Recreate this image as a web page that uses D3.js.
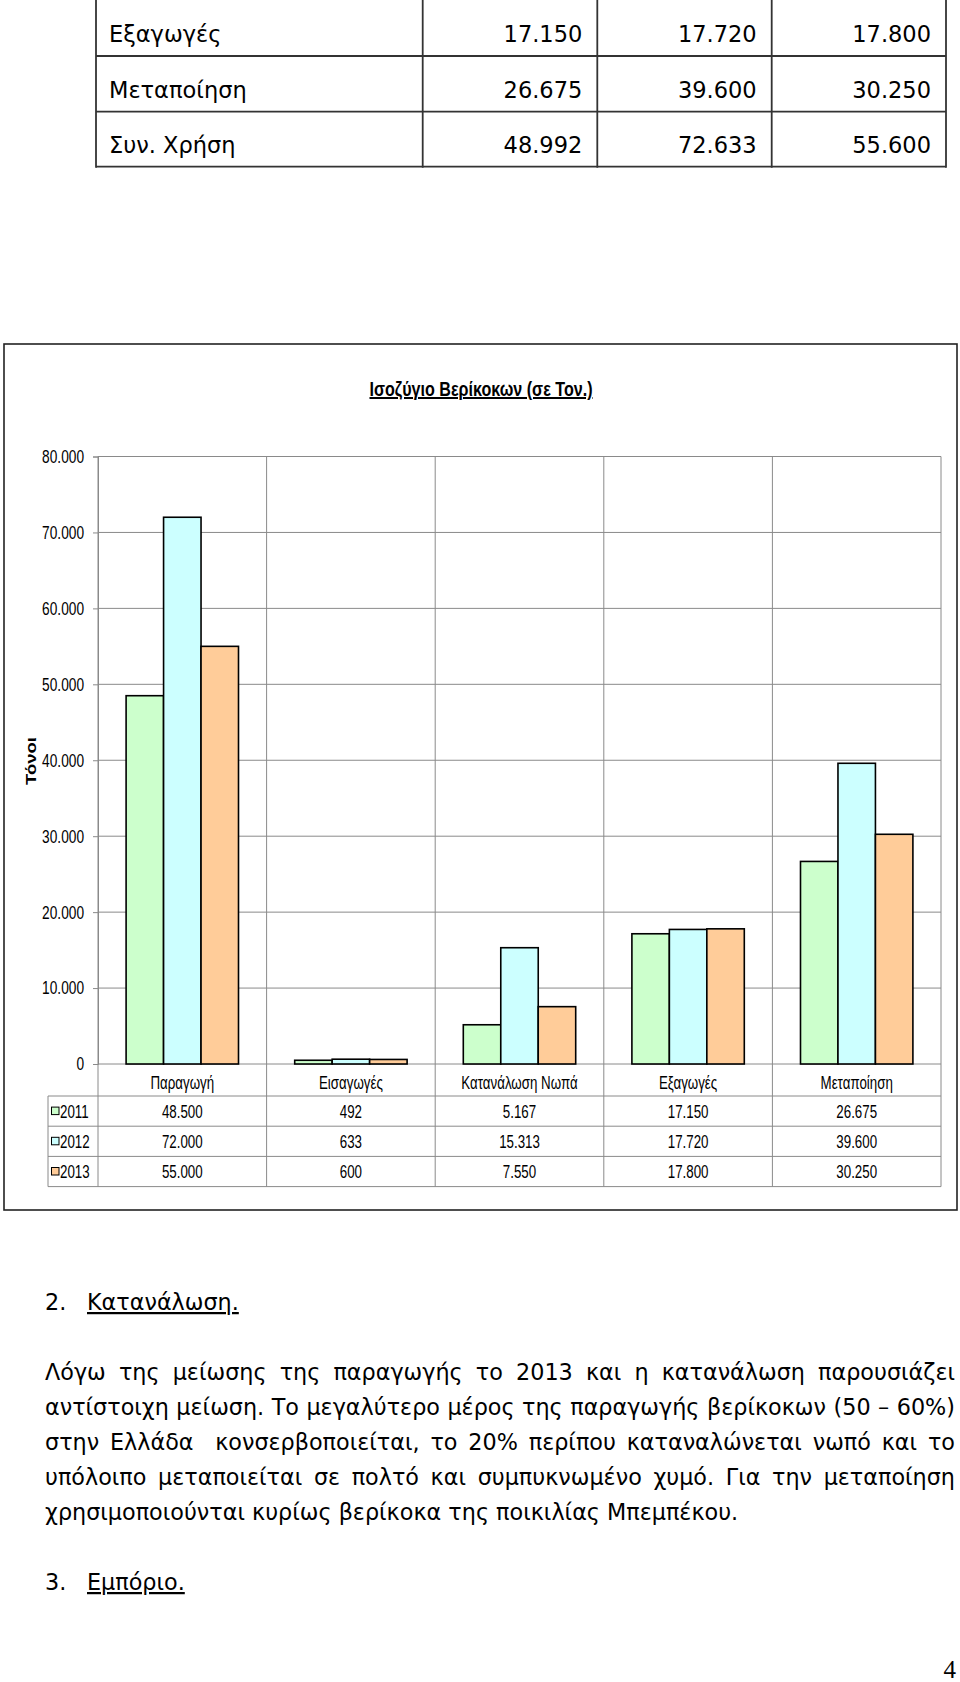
<!DOCTYPE html>
<html><head><meta charset="utf-8">
<script src="https://cdn.jsdelivr.net/npm/d3@7"></script>
<style>html,body{margin:0;padding:0;background:#fff}svg{display:block}</style>
</head><body><div id="c"></div>
<script>
// ---------- data ----------
const categories = ["Παραγωγή", "Εισαγωγές", "Κατανάλωση Νωπά", "Εξαγωγές", "Μεταποίηση"];
const years = ["2011", "2012", "2013"];
const values2011 = [48500, 492, 5167, 17150, 26675];
const values2012 = [72000, 633, 15313, 17720, 39600];
const values2013 = [55000, 600, 7550, 17800, 30250];
const yTicks = [0, 10000, 20000, 30000, 40000, 50000, 60000, 70000, 80000];

const topRowLabels = ["Εξαγωγές", "Μεταποίηση", "Συν. Χρήση"];
const top2011 = [17150, 26675, 48992];
const top2012 = [17720, 39600, 72633];
const top2013 = [17800, 30250, 55600];

const chartTitle = "Ισοζύγιο Βερίκοκων  (σε Τον.)";
const yAxisTitle = "Τόνοι";
const heading2 = ["2.", "Κατανάλωση."];
const paragraph = [
  "Λόγω της μείωσης της παραγωγής το 2013 και η κατανάλωση παρουσιάζει",
  "αντίστοιχη μείωση. Το μεγαλύτερο μέρος της παραγωγής βερίκοκων (50 – 60%)",
  "στην Ελλάδα  κονσερβοποιείται, το 20% περίπου καταναλώνεται νωπό και το",
  "υπόλοιπο μεταποιείται σε πολτό και συμπυκνωμένο χυμό. Για την μεταποίηση",
  "χρησιμοποιούνται κυρίως βερίκοκα της ποικιλίας Μπεμπέκου."
];
const heading3 = ["3.", "Εμπόριο."];
const pageNumber = "4";

// ---------- styles ----------
const seriesColors = ["#CCFFCC", "#CCFFFF", "#FFCC99"];
const sans = "'Liberation Sans',Arial,sans-serif";
const docFont = "'DejaVu Sans','Noto Sans',sans-serif";
const NARROW = 0.74;

const series = [values2011, values2012, values2013];
const topCols = [top2011, top2012, top2013];
const loc = d3.formatLocale({decimal: ",", thousands: ".", grouping: [3], currency: ["", "€"]});
const fmt = loc.format(",d");

function condense(sel, f) {
  sel.each(function () {
    const w = this.getComputedTextLength();
    d3.select(this).attr("textLength", w * f).attr("lengthAdjust", "spacingAndGlyphs");
  });
  return sel;
}

const W = 960, H = 1682;
const svg = d3.select("#c").append("svg").attr("width", W).attr("height", H);

// ---------- top table ----------
const tt = svg.append("g");
const tColX = [96, 422.7, 597.3, 771.7, 946];
const tRowY = [0, 56, 111.7, 166.7];
const tLine = "#333";
tColX.forEach(x => tt.append("line").attr("x1", x).attr("x2", x).attr("y1", -2).attr("y2", tRowY[3] + 1)
  .attr("stroke", tLine).attr("stroke-width", 1.8));
tRowY.slice(1).forEach(yy => tt.append("line").attr("x1", tColX[0]).attr("x2", tColX[4]).attr("y1", yy).attr("y2", yy)
  .attr("stroke", tLine).attr("stroke-width", 1.8));
topRowLabels.forEach((lab, i) => {
  const by = tRowY[i + 1] - 14;
  tt.append("text").attr("x", 109).attr("y", by).attr("font-family", docFont).attr("font-size", 22.5)
    .attr("fill", "#000").text(lab);
  topCols.forEach((col, j) => {
    tt.append("text").attr("x", tColX[j + 2] - 15).attr("y", by).attr("text-anchor", "end")
      .attr("font-family", docFont).attr("font-size", 22.5).attr("fill", "#000").text(fmt(col[i]));
  });
});

// ---------- chart ----------
const cg = svg.append("g");
cg.append("rect").attr("x", 4).attr("y", 344).attr("width", 953).attr("height", 866)
  .attr("fill", "#fff").attr("stroke", "#222").attr("stroke-width", 1.6);

cg.append("text").attr("x", 481).attr("y", 396).attr("text-anchor", "middle")
  .attr("font-family", sans).attr("font-weight", "bold").attr("font-size", 20)
  .attr("text-decoration", "underline").attr("fill", "#000")
  .attr("textLength", 223).attr("lengthAdjust", "spacingAndGlyphs").text(chartTitle);

const plotL = 98, plotR = 941, plotT = 456.5, plotB = 1064;
const y = d3.scaleLinear().domain([0, 80000]).range([plotB, plotT]);
const x0 = d3.scaleBand().domain(categories).range([plotL, plotR]).paddingInner(0).paddingOuter(0);
const x1 = d3.scaleBand().domain(years).range([0, x0.bandwidth()]).paddingInner(0).paddingOuter(0.75);

const grid = "#8a8a8a";
cg.append("g").selectAll("line").data(yTicks).join("line")
  .attr("x1", plotL).attr("x2", plotR).attr("y1", d => y(d)).attr("y2", d => y(d))
  .attr("stroke", grid).attr("stroke-width", 1);
const tableTop = 1096, rowH = 30.2;
const tableBottom = tableTop + rowH * 3;
const bounds = categories.map(c => x0(c)).concat([plotR]);
cg.append("g").selectAll("line").data(bounds).join("line")
  .attr("x1", d => d).attr("x2", d => d).attr("y1", plotT).attr("y2", tableBottom)
  .attr("stroke", grid).attr("stroke-width", 1);

// y axis
const yAxis = d3.axisLeft(y).tickValues(yTicks).tickSize(5).tickPadding(9).tickFormat(d => fmt(d));
const ya = cg.append("g").attr("transform", `translate(${plotL},0)`).call(yAxis);
ya.select(".domain").attr("stroke", grid);
ya.selectAll(".tick line").attr("stroke", grid);
condense(ya.selectAll(".tick text").attr("font-family", sans).attr("font-size", 18.5).attr("fill", "#000"), NARROW);

cg.append("text").attr("transform", `translate(31,761) rotate(-90)`).attr("text-anchor", "middle")
  .attr("dy", "0.35em").attr("font-family", sans).attr("font-weight", "bold")
  .attr("font-size", 15).attr("fill", "#000")
  .attr("textLength", 48).attr("lengthAdjust", "spacingAndGlyphs").text(yAxisTitle);

// bars
const barData = [];
categories.forEach((c, ci) => years.forEach((yr, si) => barData.push({c, yr, si, v: series[si][ci]})));
cg.append("g").selectAll("rect").data(barData).join("rect")
  .attr("x", d => x0(d.c) + x1(d.yr)).attr("width", x1.bandwidth())
  .attr("y", d => y(d.v)).attr("height", d => y(0) - y(d.v))
  .attr("fill", d => seriesColors[d.si]).attr("stroke", "#000").attr("stroke-width", 1.6);

// category labels
condense(cg.append("g").selectAll("text").data(categories).join("text")
  .attr("x", d => x0(d) + x0.bandwidth() / 2).attr("y", 1089).attr("text-anchor", "middle")
  .attr("font-family", sans).attr("font-size", 18).attr("fill", "#000").text(d => d), NARROW);

// data table
const tblLeft = 48;
const tg = cg.append("g");
d3.range(4).forEach(i => tg.append("line").attr("x1", tblLeft).attr("x2", plotR)
  .attr("y1", tableTop + i * rowH).attr("y2", tableTop + i * rowH).attr("stroke", grid).attr("stroke-width", 1));
tg.append("line").attr("x1", tblLeft).attr("x2", tblLeft).attr("y1", tableTop).attr("y2", tableBottom)
  .attr("stroke", grid).attr("stroke-width", 1);
years.forEach((yr, si) => {
  const cy = tableTop + rowH * si + rowH / 2;
  tg.append("rect").attr("x", 51.5).attr("y", cy - 4).attr("width", 7.5).attr("height", 7.5)
    .attr("fill", seriesColors[si]).attr("stroke", "#000").attr("stroke-width", 1);
  condense(tg.append("text").attr("x", 60).attr("y", cy).attr("dy", "0.36em").attr("font-family", sans)
    .attr("font-size", 18).attr("fill", "#000").text(yr), NARROW);
  categories.forEach((c, ci) => {
    condense(tg.append("text").attr("x", x0(c) + x0.bandwidth() / 2).attr("y", cy).attr("dy", "0.36em")
      .attr("text-anchor", "middle").attr("font-family", sans).attr("font-size", 18).attr("fill", "#000")
      .text(fmt(series[si][ci])), NARROW);
  });
});

// ---------- text section ----------
const txt = svg.append("g").attr("font-family", docFont).attr("font-size", 22.3).attr("fill", "#000");
function heading(parts, by) {
  txt.append("text").attr("x", 45).attr("y", by).text(parts[0]);
  txt.append("text").attr("x", 87).attr("y", by).attr("text-decoration", "underline").text(parts[1]);
}
heading(heading2, 1310);
heading(heading3, 1590);

const measurer = txt.append("text").attr("x", -1000).attr("y", -1000);
function wordWidth(w) { measurer.text(w); return measurer.node().getComputedTextLength(); }
const lx0 = 45, lx1 = 955;
paragraph.forEach((line, i) => {
  const by = 1380 + i * 35;
  const last = i === paragraph.length - 1;
  const words = line.split(" ");
  const widths = words.map(wordWidth);
  const total = d3.sum(widths);
  const gaps = words.length - 1;
  const spaceW = wordWidth("a a") - wordWidth("aa");
  let gap = last ? spaceW : (lx1 - lx0 - total) / gaps;
  let squeeze = 1;
  if (gap < spaceW * 0.6) { gap = spaceW * 0.6; squeeze = (lx1 - lx0 - gap * gaps) / total; }
  let cx = lx0;
  words.forEach((w, k) => {
    const ww = widths[k] * squeeze;
    if (w.length) {
      const t = txt.append("text").attr("x", cx).attr("y", by).text(w);
      if (squeeze < 1) t.attr("textLength", ww).attr("lengthAdjust", "spacingAndGlyphs");
    }
    cx += ww + gap;
  });
});
measurer.remove();

svg.append("text").attr("x", 956).attr("y", 1678).attr("text-anchor", "end")
  .attr("font-family", "'Liberation Serif','Times New Roman',serif").attr("font-size", 25).attr("fill", "#000")
  .text(pageNumber);
</script></body></html>
